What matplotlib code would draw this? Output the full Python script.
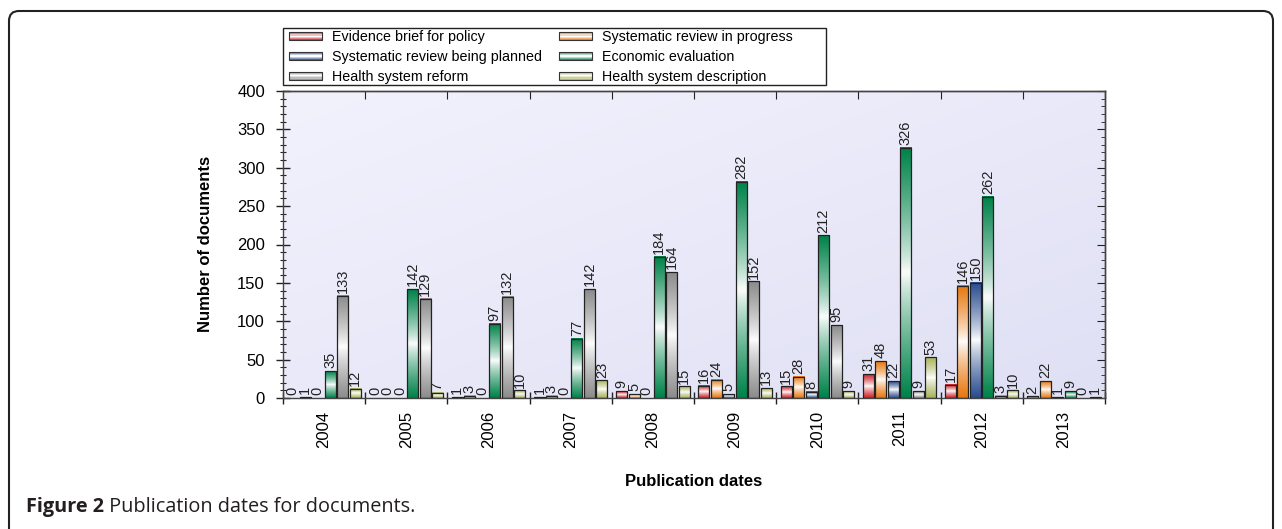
import numpy as np
import matplotlib
matplotlib.use('Agg')
import matplotlib.pyplot as plt
from matplotlib.patches import Rectangle, FancyBboxPatch
from matplotlib.legend_handler import HandlerBase
from matplotlib.colors import to_rgb
from matplotlib.ticker import FixedLocator, MultipleLocator, NullFormatter

plt.rcParams['font.family'] = ['Liberation Sans', 'DejaVu Sans']

# data
years = ['2004', '2005', '2006', '2007', '2008', '2009', '2010', '2011', '2012', '2013']
series_names = ['Evidence brief for policy', 'Systematic review in progress',
                'Systematic review being planned', 'Economic evaluation',
                'Health system reform', 'Health system description']
evidence_brief = [0, 0, 1, 1, 9, 16, 15, 31, 17, 2]
review_in_progress = [1, 0, 3, 3, 5, 24, 28, 48, 146, 22]
review_planned = [0, 0, 0, 0, 0, 5, 8, 22, 150, 1]
economic_eval = [35, 142, 97, 77, 184, 282, 212, 326, 262, 9]
system_reform = [133, 129, 132, 142, 164, 152, 95, 9, 3, 0]
system_description = [12, 7, 10, 23, 15, 13, 9, 53, 10, 1]

series = [evidence_brief, review_in_progress, review_planned,
          economic_eval, system_reform, system_description]
colors = ['#d01f26', '#e8780f', '#2a4d8f', '#00834a', '#8c8c8c', '#a9b35a']


def gradient(color, n=64):
    # colour at top and bottom, white in the middle
    base = np.array(to_rgb(color))
    t = np.abs(np.linspace(0, 1, n) - 0.5) * 2
    t = t ** 0.8
    img = (1 - t)[:, None] * np.ones(3) + t[:, None] * base
    return img[:, None, :]


class GradientHandler(HandlerBase):
    def create_artists(self, legend, orig_handle, xdescent, ydescent,
                       width, height, fontsize, trans):
        base = np.array(to_rgb(orig_handle.get_facecolor()))
        arts = []
        n = 7
        for j in range(n):
            t = abs((j + 0.5) / n - 0.5) * 2
            c = (1 - t) * np.ones(3) + t * base
            arts.append(Rectangle((-xdescent, -ydescent + j * height / n), width, height / n,
                                  facecolor=c, edgecolor='none', transform=trans))
        arts.append(Rectangle((-xdescent, -ydescent), width, height, facecolor='none',
                              edgecolor='#333333', lw=0.8, transform=trans))
        return arts


W, H = 1282, 529
fig = plt.figure(figsize=(W / 100, H / 100), dpi=100)
ax = fig.add_axes([283 / W, 1 - 398 / H, 822 / W, 307 / H])

# lavender background
gx, gy = np.meshgrid(np.linspace(0, 1, 60), np.linspace(0, 1, 60))
s = (gx + gy) / 2
top = np.array(to_rgb('#f2f2fd'))
bot = np.array(to_rgb('#e0e0f5'))
bg = (1 - s)[..., None] * top + s[..., None] * bot
ax.imshow(bg, extent=[-0.5, 9.5, 0, 400], aspect='auto', zorder=0, interpolation='bicubic')

step = 0.152
bw = 0.134
for k, (vals, col) in enumerate(zip(series, colors)):
    for i, v in enumerate(vals):
        xc = i + (k - 2.5) * step
        x0 = xc - bw / 2
        if v > 0:
            ax.imshow(gradient(col), extent=[x0, x0 + bw, 0, v], aspect='auto',
                      zorder=2, interpolation='bilinear')
            ax.add_patch(Rectangle((x0, 0), bw, v, facecolor='none',
                                   edgecolor='#222222', lw=0.9, zorder=3))
        ax.annotate(str(v), (xc, v), xytext=(0, 2), textcoords='offset points',
                    rotation=90, ha='center', va='bottom', fontsize=10.5,
                    color='#222222', zorder=4)

ax.set_xlim(-0.5, 9.5)
ax.set_ylim(0, 400)

ax.xaxis.set_major_locator(FixedLocator(np.arange(-0.5, 10, 1)))
ax.xaxis.set_major_formatter(NullFormatter())
ax.xaxis.set_minor_locator(FixedLocator(range(10)))
ax.set_xticklabels(years, minor=True, rotation=90)
ax.tick_params(axis='x', which='major', direction='inout', length=9, width=1, color='#222222')
ax.tick_params(axis='x', which='minor', length=0, pad=9, labelsize=12)

ax.yaxis.set_major_locator(MultipleLocator(50))
ax.yaxis.set_minor_locator(MultipleLocator(10))
ax.tick_params(axis='y', which='major', direction='inout', length=10, width=1,
               labelsize=12, pad=8, color='#222222')
ax.tick_params(axis='y', which='minor', direction='inout', length=5, width=0.8, color='#222222')

sec_x = ax.secondary_xaxis('top')
sec_x.xaxis.set_major_locator(FixedLocator(np.arange(-0.5, 10, 1)))
sec_x.tick_params(direction='in', length=6, labeltop=False, color='#222222')
sec_y = ax.secondary_yaxis('right')
sec_y.yaxis.set_major_locator(MultipleLocator(50))
sec_y.yaxis.set_minor_locator(MultipleLocator(10))
sec_y.tick_params(which='major', direction='in', length=6, labelright=False, color='#222222')
sec_y.tick_params(which='minor', direction='in', length=3, labelright=False, color='#222222')

for sp in list(ax.spines.values()) + list(sec_x.spines.values()) + list(sec_y.spines.values()):
    sp.set_color('#444444')
    sp.set_linewidth(1)

fig.text(205 / W, 1 - 244 / H, 'Number of documents', rotation=90, ha='center',
         va='center', fontsize=12, fontweight='bold')
fig.text(694 / W, 1 - 481 / H, 'Publication dates', ha='center', va='center',
         fontsize=12, fontweight='bold')

# legend, filled column by column; frame drawn separately
order = [0, 2, 4, 1, 3, 5]
handles = [Rectangle((0, 0), 1, 1, facecolor=colors[j]) for j in order]
labels = [series_names[j] for j in order]
leg = fig.legend(handles, labels, loc='upper left', ncol=2,
                 bbox_to_anchor=(285 / W, 1 - 26 / H), bbox_transform=fig.transFigure,
                 handler_map={Rectangle: GradientHandler()}, fontsize=10.3,
                 handlelength=2.3, handleheight=0.5, handletextpad=0.7,
                 columnspacing=1.2, labelspacing=0.4, borderpad=0.3,
                 borderaxespad=0, frameon=False)
fig.patches.append(Rectangle((283 / W, 1 - 85 / H), (826 - 283) / W, 57 / H,
                             transform=fig.transFigure, facecolor='white',
                             edgecolor='#222222', lw=1, zorder=0))

# outer frame and caption
frame = FancyBboxPatch((0.09, -0.5), 12.64, 5.68, boxstyle='round,pad=0,rounding_size=0.1',
                       transform=fig.dpi_scale_trans, facecolor='none',
                       edgecolor='#222222', lw=1.5)
fig.patches.append(frame)

cap1 = fig.text(26 / W, 1 - 507 / H, 'Figure 2', fontsize=14.3, fontweight='bold',
                family=['Open Sans', 'DejaVu Sans'], va='center', color='#231f20')
fig.add_artist(plt.Annotation(' Publication dates for documents.', xy=(1, 0.5),
                              xycoords=cap1, va='center', fontsize=14.3,
                              family=['Open Sans', 'DejaVu Sans'], color='#231f20'))

fig.savefig('out.png', dpi=100)
